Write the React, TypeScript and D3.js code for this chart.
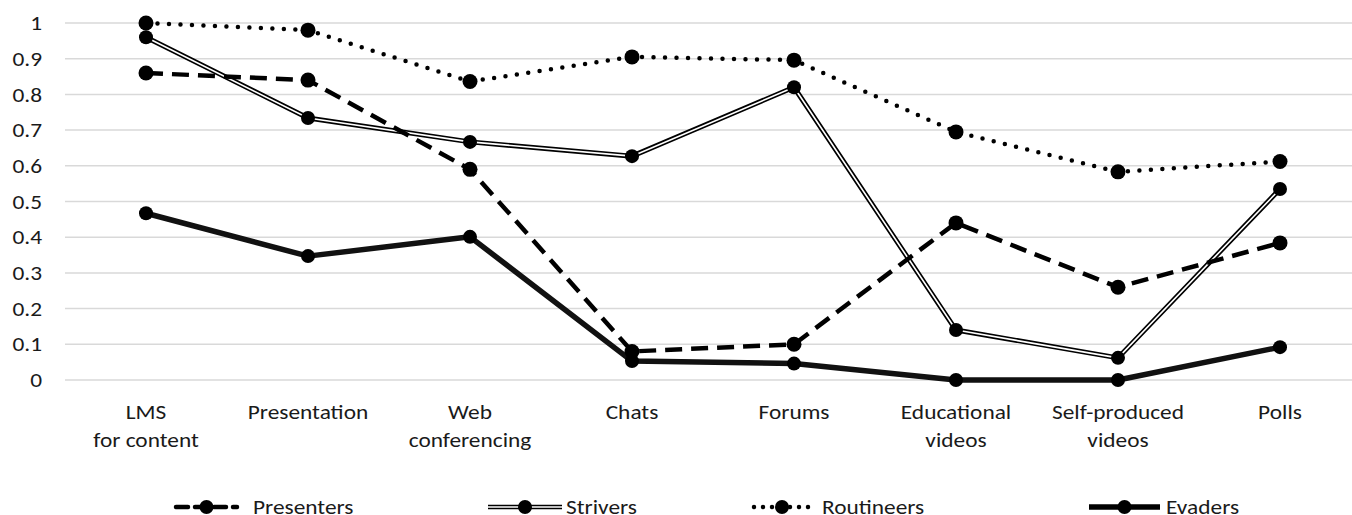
import React, { useEffect, useRef } from 'react';
import * as d3 from 'd3';

const categories: string[][] = [
  ['LMS', 'for content'],
  ['Presentation'],
  ['Web', 'conferencing'],
  ['Chats'],
  ['Forums'],
  ['Educational', 'videos'],
  ['Self-produced', 'videos'],
  ['Polls'],
];

const presenters = [0.86, 0.84, 0.59, 0.08, 0.1, 0.44, 0.26, 0.384];
const strivers = [0.96, 0.734, 0.667, 0.627, 0.82, 0.14, 0.062, 0.535];
const routineers = [1.0, 0.98, 0.836, 0.905, 0.896, 0.695, 0.583, 0.612];
const evaders = [0.467, 0.347, 0.401, 0.053, 0.046, 0, 0, 0.092];

const yTicks = [0, 0.1, 0.2, 0.3, 0.4, 0.5, 0.6, 0.7, 0.8, 0.9, 1];

const seriesNames = ['Presenters', 'Strivers', 'Routineers', 'Evaders'];

const FONT = "Carlito, Calibri, 'Open Sans', sans-serif";
const FS = 20.5;
const SX = 1.14; // the reference text is a little wider than Carlito

const App: React.FC = () => {
  const chartRef = useRef<SVGSVGElement | null>(null);

  useEffect(() => {
    const svg = d3.select(chartRef.current);
    svg.selectAll('*').remove();

    const width = 1352;
    const height = 515;
    const margin = { top: 23, left: 65, bottom: 135 };
    const step = 162;

    const x = d3
      .scalePoint<number>()
      .domain(d3.range(categories.length))
      .range([margin.left + step / 2, margin.left + step / 2 + step * (categories.length - 1)]);

    const y = d3.scaleLinear().domain([0, 1]).range([height - margin.bottom, margin.top]);

    // gridlines
    svg
      .append('g')
      .selectAll('line')
      .data(yTicks)
      .join('line')
      .attr('x1', margin.left)
      .attr('x2', width)
      .attr('y1', (d) => y(d))
      .attr('y2', (d) => y(d))
      .attr('stroke', '#d9d9d9')
      .attr('stroke-width', 1.5);

    // y tick labels
    svg
      .append('g')
      .selectAll('text')
      .data(yTicks)
      .join('text')
      .attr('transform', (d) => `translate(42,${y(d)}) scale(${SX},1)`)
      .attr('dy', '0.35em')
      .attr('text-anchor', 'end')
      .attr('font-family', FONT)
      .attr('font-size', FS)
      .attr('fill', '#1a1a1a')
      .text((d) => (d === 0 || d === 1 ? String(d) : d.toFixed(1)));

    // x labels
    const xl = svg
      .append('g')
      .selectAll('text')
      .data(categories)
      .join('text')
      .attr('transform', (_, i) => `translate(${x(i)},419) scale(${SX},1)`)
      .attr('text-anchor', 'middle')
      .attr('font-family', FONT)
      .attr('font-size', FS)
      .attr('fill', '#1a1a1a');
    xl.selectAll('tspan')
      .data((d) => d)
      .join('tspan')
      .attr('x', 0)
      .attr('dy', (_, i) => (i === 0 ? 0 : 28))
      .text((d) => d);

    const line = d3
      .line<number>()
      .x((_, i) => x(i)!)
      .y((d) => y(d));

    const drawMarkers = (g: d3.Selection<SVGGElement, unknown, null, undefined>, data: number[], r: number) => {
      g.selectAll('circle')
        .data(data)
        .join('circle')
        .attr('cx', (_, i) => x(i)!)
        .attr('cy', (d) => y(d))
        .attr('r', r)
        .attr('fill', '#000');
    };

    // Evaders
    const gE = svg.append('g');
    gE.append('path')
      .attr('d', line(evaders)!)
      .attr('fill', 'none')
      .attr('stroke', '#111')
      .attr('stroke-width', 5.5)
      .attr('stroke-linejoin', 'round');
    drawMarkers(gE, evaders, 7);

    // Strivers (double line)
    const gS = svg.append('g');
    gS.append('path')
      .attr('d', line(strivers)!)
      .attr('fill', 'none')
      .attr('stroke', '#000')
      .attr('stroke-width', 5)
      .attr('stroke-linejoin', 'round');
    gS.append('path')
      .attr('d', line(strivers)!)
      .attr('fill', 'none')
      .attr('stroke', '#fff')
      .attr('stroke-width', 1.6)
      .attr('stroke-linejoin', 'round');
    drawMarkers(gS, strivers, 7);

    // Presenters (dashed)
    const gP = svg.append('g');
    gP.append('path')
      .attr('d', line(presenters)!)
      .attr('fill', 'none')
      .attr('stroke', '#000')
      .attr('stroke-width', 4.5)
      .attr('stroke-dasharray', '17,9');
    drawMarkers(gP, presenters, 7.5);

    // Routineers (dotted)
    const gR = svg.append('g');
    gR.append('path')
      .attr('d', line(routineers)!)
      .attr('fill', 'none')
      .attr('stroke', '#000')
      .attr('stroke-width', 4.5)
      .attr('stroke-linecap', 'round')
      .attr('stroke-dasharray', '0,11.5');
    drawMarkers(gR, routineers, 7.5);

    // legend
    const legendX = [[173, 240, 253], [488, 562, 566], [752, 812, 822], [1089, 1160, 1166]];
    const ly = 507;
    const legend = svg.append('g');
    seriesNames.forEach((name, i) => {
      const [x0, x1, tx] = legendX[i];
      const g = legend.append('g');
      const seg = g
        .append('line')
        .attr('x1', x0)
        .attr('x2', x1)
        .attr('y1', ly)
        .attr('y2', ly)
        .attr('stroke', '#000')
        .attr('stroke-width', i === 3 ? 5.5 : 4.5);
      if (i === 0) seg.attr('stroke-dasharray', '12,7').attr('stroke-linecap', 'round').attr('x1', x0 + 3).attr('x2', x1 - 3);
      if (i === 2) seg.attr('stroke-dasharray', '0,9').attr('stroke-linecap', 'round').attr('x1', x0 + 2);
      if (i === 1) {
        g.append('line')
          .attr('x1', x0)
          .attr('x2', x1)
          .attr('y1', ly)
          .attr('y2', ly)
          .attr('stroke', '#fff')
          .attr('stroke-width', 1.6);
      }
      g.append('circle')
        .attr('cx', (x0 + x1) / 2)
        .attr('cy', ly)
        .attr('r', 7)
        .attr('fill', '#000');
      g.append('text')
        .attr('transform', `translate(${tx},${ly}) scale(${SX},1)`)
        .attr('dy', '0.35em')
        .attr('font-family', FONT)
        .attr('font-size', FS)
        .attr('fill', '#1a1a1a')
        .text(name);
    });
  }, []);

  return (
    <svg
      ref={chartRef}
      width={1352}
      height={515}
      style={{ position: 'absolute', left: 0, top: 0, background: '#fff' }}
    />
  );
};

export default App;
